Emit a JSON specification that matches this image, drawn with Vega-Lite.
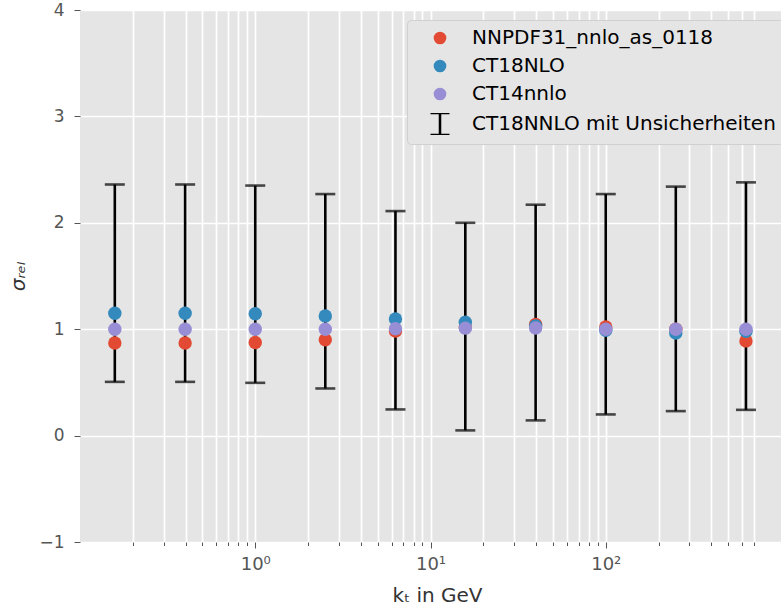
{
  "$schema": "https://vega.github.io/schema/vega-lite/v6.json",
  "width": 701,
  "height": 532,
  "autosize": {"type": "none"},
  "padding": {"left": 80, "top": 10, "right": 0, "bottom": 68},
  "background": "white",
  "config": {
    "view": {"fill": "#E5E5E5", "stroke": null},
    "font": "DejaVu Sans",
    "axis": {
      "gridColor": "white",
      "gridWidth": 1.7,
      "gridOpacity": 1,
      "domain": false,
      "tickColor": "#555555",
      "tickWidth": 1,
      "labelColor": "#555555",
      "labelFont": "DejaVu Sans",
      "labelFontSize": 17,
      "titleFont": "DejaVu Sans",
      "titleFontWeight": "normal",
      "titleColor": "#333333",
      "titleFontSize": 20
    }
  },
  "datasets": {
    "err": [
      {"x": 0.158, "lo": 0.505, "hi": 2.36},
      {"x": 0.398, "lo": 0.505, "hi": 2.36},
      {"x": 1.0, "lo": 0.496, "hi": 2.35},
      {"x": 2.51, "lo": 0.443, "hi": 2.27},
      {"x": 6.31, "lo": 0.246, "hi": 2.11},
      {"x": 15.8, "lo": 0.049, "hi": 2.0},
      {"x": 39.8, "lo": 0.143, "hi": 2.17},
      {"x": 100, "lo": 0.199, "hi": 2.27},
      {"x": 251, "lo": 0.23, "hi": 2.34},
      {"x": 631, "lo": 0.242, "hi": 2.38}
    ],
    "pts": [
      {"series": "NNPDF31_nnlo_as_0118", "x": 0.158, "v": 0.87},
      {"series": "NNPDF31_nnlo_as_0118", "x": 0.398, "v": 0.87},
      {"series": "NNPDF31_nnlo_as_0118", "x": 1.0, "v": 0.875},
      {"series": "NNPDF31_nnlo_as_0118", "x": 2.51, "v": 0.9},
      {"series": "NNPDF31_nnlo_as_0118", "x": 6.31, "v": 0.982},
      {"series": "NNPDF31_nnlo_as_0118", "x": 15.8, "v": 1.02},
      {"series": "NNPDF31_nnlo_as_0118", "x": 39.8, "v": 1.045},
      {"series": "NNPDF31_nnlo_as_0118", "x": 100, "v": 1.02},
      {"series": "NNPDF31_nnlo_as_0118", "x": 251, "v": 1.0},
      {"series": "NNPDF31_nnlo_as_0118", "x": 631, "v": 0.89},
      {"series": "CT18NLO", "x": 0.158, "v": 1.15},
      {"series": "CT18NLO", "x": 0.398, "v": 1.15},
      {"series": "CT18NLO", "x": 1.0, "v": 1.145},
      {"series": "CT18NLO", "x": 2.51, "v": 1.125},
      {"series": "CT18NLO", "x": 6.31, "v": 1.097},
      {"series": "CT18NLO", "x": 15.8, "v": 1.065},
      {"series": "CT18NLO", "x": 39.8, "v": 1.03},
      {"series": "CT18NLO", "x": 100, "v": 0.99},
      {"series": "CT18NLO", "x": 251, "v": 0.965},
      {"series": "CT18NLO", "x": 631, "v": 0.98},
      {"series": "CT14nnlo", "x": 0.158, "v": 1.0},
      {"series": "CT14nnlo", "x": 0.398, "v": 1.0},
      {"series": "CT14nnlo", "x": 1.0, "v": 1.0},
      {"series": "CT14nnlo", "x": 2.51, "v": 1.0},
      {"series": "CT14nnlo", "x": 6.31, "v": 1.005},
      {"series": "CT14nnlo", "x": 15.8, "v": 1.01},
      {"series": "CT14nnlo", "x": 39.8, "v": 1.012},
      {"series": "CT14nnlo", "x": 100, "v": 1.0},
      {"series": "CT14nnlo", "x": 251, "v": 1.0},
      {"series": "CT14nnlo", "x": 631, "v": 1.0}
    ]
  },
  "layer": [
    {
      "data": {"name": "err"},
      "mark": {"type": "rule", "color": "black", "strokeWidth": 2.6},
      "encoding": {
        "x": {
          "field": "x", "type": "quantitative",
          "scale": {"type": "log", "domain": [0.1067, 796]},
          "title": "kₜ in GeV",
          "axis": {
            "values": [0.2,0.3,0.4,0.5,0.6,0.7,0.8,0.9,1,2,3,4,5,6,7,8,9,10,20,30,40,50,60,70,80,90,100,200,300,400,500,600,700],
            "labelExpr": "datum.value == 1 ? '10⁰' : datum.value == 10 ? '10¹' : datum.value == 100 ? '10²' : ''",
            "tickSize": {"condition": {"test": "datum.value == 1 || datum.value == 10 || datum.value == 100", "value": 6}, "value": 3.5},
            "labelPadding": 7,
            "labelFontSize": 18,
            "labelFlush": false,
            "labelOverlap": false,
            "titleX": 357,
            "titleY": 59,
            "titleBaseline": "alphabetic",
            "titleAnchor": "middle",
            "titleAlign": "center"
          }
        },
        "y": {
          "field": "lo", "type": "quantitative",
          "scale": {"domain": [-1, 4], "nice": false, "zero": false},
          "title": "σᵣₑₗ",
          "axis": {"values": [-1, 0, 1, 2, 3, 4], "format": "d", "tickSize": 6, "labelPadding": 10, "titlePadding": 10, "titleFontStyle": "italic"}
        },
        "y2": {"field": "hi"}
      }
    },
    {
      "data": {"name": "err"},
      "mark": {"type": "tick", "color": "black", "orient": "horizontal", "size": 20, "thickness": 2.6},
      "encoding": {
        "x": {"field": "x", "type": "quantitative"},
        "y": {"field": "lo", "type": "quantitative", "title": "σᵣₑₗ"}
      }
    },
    {
      "data": {"name": "err"},
      "mark": {"type": "tick", "color": "black", "orient": "horizontal", "size": 20, "thickness": 2.6},
      "encoding": {
        "x": {"field": "x", "type": "quantitative"},
        "y": {"field": "hi", "type": "quantitative", "title": "σᵣₑₗ"}
      }
    },
    {
      "data": {"name": "pts"},
      "mark": {"type": "point", "filled": true, "opacity": 1, "size": 180},
      "encoding": {
        "x": {"field": "x", "type": "quantitative"},
        "y": {"field": "v", "type": "quantitative", "title": "σᵣₑₗ"},
        "order": {"field": "x"},
        "color": {
          "field": "series", "type": "nominal", "title": null,
          "scale": {
            "domain": ["NNPDF31_nnlo_as_0118", "CT18NLO", "CT14nnlo", "CT18NNLO mit Unsicherheiten"],
            "range": ["#E24A33", "#348ABD", "#988ED5", "black"]
          },
          "legend": {
            "orient": "none",
            "legendX": 327,
            "legendY": 10,
            "fillColor": "#E5E5E5",
            "strokeColor": "#D0D0D0",
            "cornerRadius": 4,
            "padding": 8,
            "symbolOffset": 15,
            "labelOffset": 22,
            "labelFont": "DejaVu Sans",
            "labelFontSize": 20,
            "labelColor": "black",
            "labelLimit": 400,
            "rowPadding": 8,
            "symbolSize": 160,
            "symbolStrokeWidth": 0,
            "symbolOpacity": 1
          }
        },
        "shape": {
          "field": "series", "type": "nominal", "title": null,
          "scale": {
            "domain": ["NNPDF31_nnlo_as_0118", "CT18NLO", "CT14nnlo", "CT18NNLO mit Unsicherheiten"],
            "range": ["circle", "circle", "circle", "M-1.5,-1.75H1.5V-1.55H0.2V1.55H1.5V1.75H-1.5V1.55H-0.2V-1.55H-1.5Z"]
          }
        }
      }
    }
  ]
}
